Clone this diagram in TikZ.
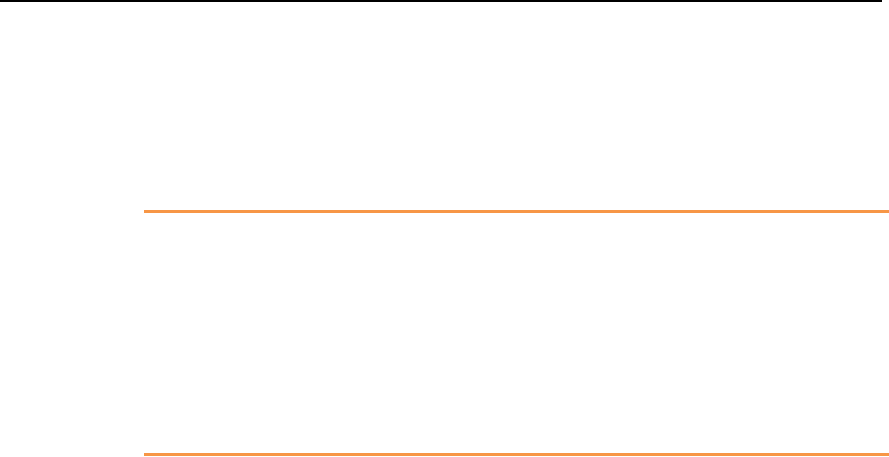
\documentclass[tikz,border=0pt]{standalone}
\usepackage{xcolor}
\definecolor{rulebrown}{HTML}{F79646}
\tikzset{
  headrule/.style={draw=black,line width=2pt},
  bandrule/.style={draw=rulebrown,line width=3pt}
}
\begin{document}
\begin{tikzpicture}[x=1pt,y=1pt]

\useasboundingbox (0,0) rectangle (889,456);

\coordinate (H1) at (0,455);
\coordinate (H2) at (882,455);
\coordinate (A1) at (144,244.5);
\coordinate (A2) at (889,244.5);
\coordinate (B1) at (144,1.5);
\coordinate (B2) at (889,1.5);

\draw [headrule] (H1) -- (H2);
\draw [bandrule] (A1) -- (A2);
\draw [bandrule] (B1) -- (B2);

\end{tikzpicture}
\end{document}
